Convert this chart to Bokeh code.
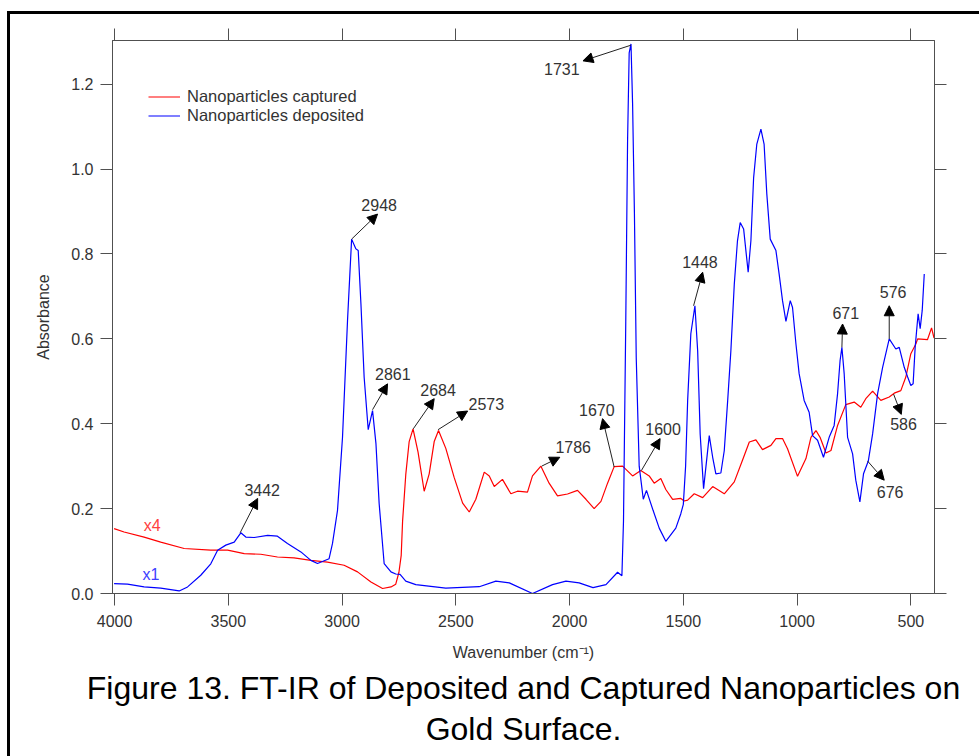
from bokeh.plotting import figure
from bokeh.models import (Range1d, LinearAxis, FixedTicker, NumeralTickFormatter, Arrow,
                          NormalHead, ColumnDataSource, Legend, LegendItem, Title,
                          InlineStyleSheet)
from bokeh.core.properties import value
from bokeh.embed import file_html
from bokeh.resources import INLINE

# ---------------- data ----------------
deposited_wn = [4002, 3943, 3870, 3797, 3716, 3679, 3621, 3577, 3547, 3511, 3474, 3445, 3423,
                3386, 3327, 3284, 3240, 3181, 3137, 3108, 3057, 3042, 3020, 2998, 2976, 2958,
                2939, 2929, 2917, 2903, 2885, 2866, 2851, 2837, 2815, 2785, 2764, 2745, 2720,
                2676, 2544, 2397, 2324, 2265, 2163, 2075, 2016, 1958, 1897, 1840, 1789, 1770,
                1763, 1753, 1745, 1738, 1730, 1723, 1715, 1707, 1694, 1676, 1662, 1633, 1606,
                1577, 1533, 1511, 1500, 1490, 1481, 1467, 1449, 1437, 1426, 1411, 1386, 1371,
                1357, 1335, 1320, 1305, 1291, 1276, 1262, 1250, 1235, 1215, 1203, 1191, 1177,
                1159, 1145, 1133, 1118, 1093, 1079, 1064, 1049, 1030, 1020, 1005, 991, 969,
                947, 932, 910, 884, 859, 837, 822, 811, 803, 793, 778, 756, 742, 724, 708, 687,
                668, 646, 624, 595, 566, 551, 529, 514, 500, 490, 481, 468, 459, 450, 441]
deposited_abs = [0.0235, 0.022, 0.0155, 0.0125, 0.006, 0.0155, 0.043, 0.070, 0.102, 0.114,
                 0.121, 0.143, 0.133, 0.132, 0.137, 0.135, 0.118, 0.098, 0.078, 0.0706, 0.082,
                 0.118, 0.196, 0.368, 0.643, 0.835, 0.812, 0.808, 0.682, 0.510, 0.386, 0.431,
                 0.353, 0.212, 0.0706, 0.051, 0.046, 0.045, 0.029, 0.021, 0.0125, 0.016, 0.029,
                 0.025, 0.0, 0.021, 0.029, 0.025, 0.0137, 0.021, 0.050, 0.042, 0.170, 0.640,
                 1.069, 1.274, 1.295, 1.154, 0.898, 0.556, 0.300, 0.222, 0.243, 0.196, 0.154,
                 0.123, 0.154, 0.188, 0.210, 0.300, 0.455, 0.612, 0.678, 0.572, 0.376, 0.247,
                 0.372, 0.321, 0.282, 0.284, 0.337, 0.455, 0.572, 0.729, 0.831, 0.874, 0.859,
                 0.757, 0.831, 0.980, 1.059, 1.094, 1.059, 0.941, 0.835, 0.808, 0.753, 0.690,
                 0.641, 0.690, 0.674, 0.588, 0.518, 0.455, 0.427, 0.372, 0.361, 0.321, 0.368,
                 0.396, 0.471, 0.549, 0.580, 0.518, 0.368, 0.329, 0.267, 0.216, 0.282, 0.312,
                 0.376, 0.471, 0.533, 0.600, 0.576, 0.580, 0.533, 0.510, 0.490, 0.494, 0.580,
                 0.659, 0.624, 0.667, 0.753]

captured_wn = [4002, 3958, 3870, 3797, 3694, 3577, 3503, 3430, 3357, 3284, 3211, 3137, 3064,
               2991, 2932, 2873, 2822, 2785, 2764, 2750, 2740, 2734, 2720, 2705, 2688, 2666,
               2639, 2617, 2595, 2576, 2544, 2507, 2470, 2441, 2412, 2375, 2353, 2331, 2295,
               2258, 2229, 2185, 2163, 2126, 2090, 2053, 2009, 1965, 1928, 1892, 1862, 1833,
               1804, 1767, 1723, 1687, 1650, 1628, 1599, 1577, 1547, 1511, 1496, 1481, 1452,
               1415, 1371, 1320, 1276, 1240, 1210, 1181, 1152, 1115, 1093, 1064, 1042, 998,
               961, 939, 917, 899, 873, 851, 822, 786, 749, 720, 698, 668, 632, 595, 573, 544,
               522, 500, 478, 470, 427, 409, 398]
captured_abs = [0.153, 0.145, 0.133, 0.121, 0.106, 0.102, 0.102, 0.094, 0.0925, 0.086, 0.084,
                0.078, 0.074, 0.0666, 0.051, 0.027, 0.0118, 0.0155, 0.022, 0.050, 0.090, 0.170,
                0.280, 0.358, 0.388, 0.333, 0.241, 0.282, 0.358, 0.384, 0.342, 0.273, 0.213,
                0.192, 0.222, 0.286, 0.277, 0.252, 0.269, 0.235, 0.241, 0.239, 0.277, 0.300,
                0.260, 0.230, 0.2345, 0.243, 0.222, 0.200, 0.217, 0.260, 0.299, 0.300, 0.277,
                0.290, 0.277, 0.260, 0.271, 0.245, 0.222, 0.224, 0.218, 0.220, 0.235, 0.226,
                0.252, 0.235, 0.263, 0.314, 0.357, 0.362, 0.339, 0.349, 0.365, 0.365, 0.341,
                0.276, 0.318, 0.368, 0.384, 0.368, 0.331, 0.337, 0.396, 0.445, 0.451, 0.439,
                0.459, 0.477, 0.455, 0.463, 0.472, 0.478, 0.510, 0.565, 0.588, 0.600, 0.598,
                0.626, 0.602]

series_names = ["Nanoparticles captured", "Nanoparticles deposited"]
scale_tags = ["x4", "x1"]

x_ticks = [4000, 3500, 3000, 2500, 2000, 1500, 1000, 500]
y_ticks = [0.0, 0.2, 0.4, 0.6, 0.8, 1.0, 1.2]

peak_labels = ["3442", "2948", "2861", "2684", "2573", "1786", "1670", "1600", "1731",
               "1448", "671", "576", "586", "676"]
peak_wn = [3448, 2958, 2866, 2687, 2578, 2123, 1804, 1684, 1730, 1455, 803, 595, 576, 690]
peak_abs = [0.143, 0.835, 0.433, 0.388, 0.386, 0.300, 0.298, 0.290, 1.292, 0.678, 0.580,
            0.600, 0.470, 0.312]

# ---------------- layout of the annotations ----------------
tip_wn = [3371, 2844, 2800, 2595, 2448, 2043, 1855, 1602, 1941, 1415, 800, 595, 542, 617]
tip_abs = [0.224, 0.894, 0.494, 0.459, 0.430, 0.321, 0.412, 0.365, 1.255, 0.757, 0.635,
           0.678, 0.422, 0.267]
txt_wn = [3351, 2837, 2777, 2578, 2366, 1984, 1880, 1589, 2034, 1427, 786, 578, 532, 591]
txt_abs = [0.244, 0.916, 0.517, 0.480, 0.446, 0.345, 0.433, 0.387, 1.235, 0.780, 0.662,
           0.710, 0.399, 0.238]
tag_wn = [3835, 3840]
tag_abs = [0.161, 0.044]

FONT = "Liberation Sans"
RED = "#ff0000"
BLUE = "#0000ff"
AX = "#505050"
TXT = "#333333"

p = figure(width=979, height=756, output_backend="svg", toolbar_location=None,
           x_range=Range1d(4009, 396), y_range=Range1d(0, 1.303),
           min_border_left=112, min_border_right=45, min_border_top=40,
           min_border_bottom=163, background_fill_color="white",
           border_fill_color="white")
p.xgrid.visible = False
p.ygrid.visible = False
p.outline_line_color = AX


def style_axis(ax, ticks, show_labels=True):
    ax.ticker = FixedTicker(ticks=ticks)
    ax.axis_line_color = AX
    ax.major_tick_line_color = AX
    ax.major_tick_out = 12
    ax.major_tick_in = 0
    ax.minor_tick_line_color = None
    ax.major_label_text_font = FONT
    ax.major_label_text_font_size = "16px"
    ax.major_label_text_color = TXT
    ax.axis_label_text_font = FONT
    ax.axis_label_text_font_size = "16px"
    ax.axis_label_text_font_style = "normal"
    ax.axis_label_text_color = TXT
    if not show_labels:
        ax.major_label_overrides = {t: "" for t in ticks}


xb = p.xaxis[0]
yl = p.yaxis[0]
style_axis(xb, x_ticks)
style_axis(yl, y_ticks)
yl.formatter = NumeralTickFormatter(format="0.0")
xb.major_label_standoff = 9
yl.major_label_standoff = 7
xb.axis_label = "Wavenumber (cm\u207b\u00b9)"
xb.axis_label_standoff = 14
yl.axis_label = "Absorbance"
yl.axis_label_standoff = 16

xt = LinearAxis()
style_axis(xt, x_ticks, show_labels=False)
p.add_layout(xt, "above")
yr = LinearAxis()
style_axis(yr, y_ticks, show_labels=False)
p.add_layout(yr, "right")

r_red = p.line(captured_wn, captured_abs, line_color=RED, line_width=1.2)
r_blue = p.line(deposited_wn, deposited_abs, line_color=BLUE, line_width=1.2)

arrows = ColumnDataSource(dict(x0=peak_wn, y0=peak_abs, x1=tip_wn, y1=tip_abs))
p.add_layout(Arrow(source=arrows, x_start="x0", y_start="y0", x_end="x1", y_end="y1",
                   line_color="#222222", line_width=1,
                   end=NormalHead(size=10, fill_color="black", line_color="black",
                                  line_width=1)))

labels_src = ColumnDataSource(dict(x=txt_wn, y=txt_abs, t=peak_labels))
p.text(x="x", y="y", text="t", source=labels_src, text_align="center",
       text_baseline="middle", text_font=value(FONT), text_font_size="16px",
       text_color=TXT)

tag_src = ColumnDataSource(dict(x=tag_wn, y=tag_abs, t=scale_tags, c=["#ff4040", "#4040ff"]))
p.text(x="x", y="y", text="t", source=tag_src, text_align="center",
       text_baseline="middle", text_font=value(FONT), text_font_size="16px",
       text_color="c")

legend = Legend(items=[LegendItem(label=series_names[0], renderers=[r_red]),
                       LegendItem(label=series_names[1], renderers=[r_blue])],
                location=(36, 468), padding=0, margin=0, spacing=0,
                glyph_width=32, glyph_height=19, label_height=19, label_standoff=7,
                border_line_color=None, background_fill_alpha=0,
                label_text_font=FONT, label_text_font_size="16.5px", label_text_color=TXT)
p.add_layout(legend)

t1 = Title(text="Figure 13. FT-IR of Deposited and Captured Nanoparticles on", align="center",
           text_font=FONT, text_font_size="32px", text_font_style="normal",
           text_color="black", standoff=9)
t2 = Title(text="Gold Surface.", align="center", text_font=FONT, text_font_size="32px",
           text_font_style="normal", text_color="black", standoff=-4)
p.add_layout(t1, "below")
p.add_layout(t2, "below")

p.stylesheets = [InlineStyleSheet(css=(
    ":host { position: relative; }"
    ":host::after { content: ''; position: absolute; left: 7px; top: 11px; width: 972px;"
    " height: 745px; border-left: 3px solid black; border-top: 3px solid black;"
    " box-sizing: border-box; pointer-events: none; }"))]

open("out.html", "w").write(file_html(p, INLINE))
